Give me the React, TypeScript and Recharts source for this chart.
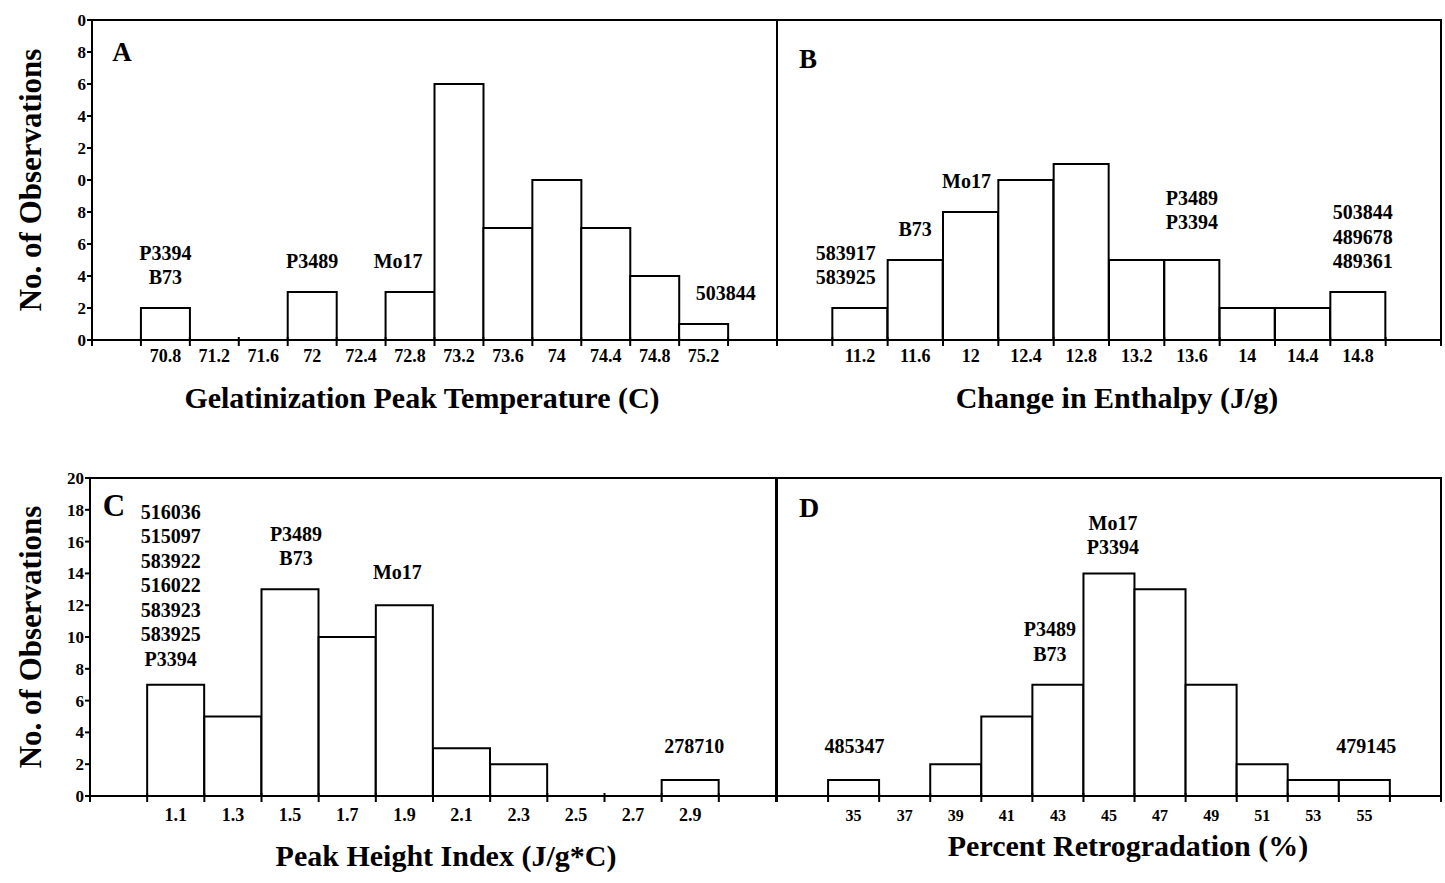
import React from 'react';
import { BarChart, Bar, XAxis, YAxis, LabelList, ReferenceArea } from 'recharts';

// ---------------- DATA ----------------
// Panel A: Gelatinization peak temperature
const tempBins = ['70.4', '70.8', '71.2', '71.6', '72', '72.4', '72.8', '73.2', '73.6', '74', '74.4', '74.8', '75.2', '75.6'];
const tempTickLabels = ['', '70.8', '71.2', '71.6', '72', '72.4', '72.8', '73.2', '73.6', '74', '74.4', '74.8', '75.2', ''];
const tempCounts = [0, 2, 0, 0, 3, 0, 3, 16, 7, 10, 7, 4, 1, 0];
const tempNotes: string[][] = [[], ['P3394', 'B73'], [], [], ['P3489'], [], ['Mo17'], [], [], [], [], [], ['503844'], []];

// Panel B: Change in enthalpy
const enthBins = ['10.8', '11.2', '11.6', '12', '12.4', '12.8', '13.2', '13.6', '14', '14.4', '14.8', '15.2'];
const enthTickLabels = ['', '11.2', '11.6', '12', '12.4', '12.8', '13.2', '13.6', '14', '14.4', '14.8', ''];
const enthCounts = [0, 2, 5, 8, 10, 11, 5, 5, 2, 2, 3, 0];
const enthNotes: string[][] = [[], ['583917', '583925'], ['B73'], ['Mo17'], [], [], [], ['P3489', 'P3394'], [], [], ['503844', '489678', '489361'], []];

// Panel C: Peak height index
const phiBins = ['0.9', '1.1', '1.3', '1.5', '1.7', '1.9', '2.1', '2.3', '2.5', '2.7', '2.9', '3.1'];
const phiTickLabels = ['', '1.1', '1.3', '1.5', '1.7', '1.9', '2.1', '2.3', '2.5', '2.7', '2.9', ''];
const phiCounts = [0, 7, 5, 13, 10, 12, 3, 2, 0, 0, 1, 0];
const phiNotes: string[][] = [[], ['516036', '515097', '583922', '516022', '583923', '583925', 'P3394'], [], ['P3489', 'B73'], [], ['Mo17'], [], [], [], [], ['278710'], []];

// Panel D: Percent retrogradation
const retroBins = ['33', '35', '37', '39', '41', '43', '45', '47', '49', '51', '53', '55', '57'];
const retroTickLabels = ['', '35', '37', '39', '41', '43', '45', '47', '49', '51', '53', '55', ''];
const retroCounts = [0, 1, 0, 2, 5, 7, 14, 13, 7, 2, 1, 1, 0];
const retroNotes: string[][] = [[], ['485347'], [], [], [], ['P3489', 'B73'], ['Mo17', 'P3394'], [], [], [], [], ['479145'], []];

const yTicks = [0, 2, 4, 6, 8, 10, 12, 14, 16, 18, 20];

// ---------------- LAYOUT / STYLE ----------------
const W = 1445;
const H = 883;
const FONT = '"Liberation Serif", "Times New Roman", Times, serif';
const XH = 40;

type Panel = {
  bins: string[];
  tickLabels: string[];
  counts: number[];
  notes: string[][];
  plot: { left: number; right: number; top: number; bottom: number };
  showY: boolean;
  yFormat: (v: number) => string;
  tickFont: number;
  tickDy: number;
  letter: string;
  letterPos: [number, number];
  letterSize: number;
  shifts: Record<number, [number, number]>;
};

const panels: Panel[] = [
  {
    bins: tempBins, tickLabels: tempTickLabels, counts: tempCounts, notes: tempNotes,
    plot: { left: 92, right: 777, top: 20, bottom: 340 },
    showY: true, yFormat: (v) => String(v % 10), tickFont: 18, tickDy: 16,
    letter: 'A', letterPos: [122, 61], letterSize: 27,
    shifts: { 6: [-12, 0], 12: [22, 0] },
  },
  {
    bins: enthBins, tickLabels: enthTickLabels, counts: enthCounts, notes: enthNotes,
    plot: { left: 777, right: 1441, top: 20, bottom: 340 },
    showY: false, yFormat: (v) => String(v), tickFont: 18, tickDy: 16,
    letter: 'B', letterPos: [808, 68], letterSize: 27,
    shifts: { 1: [-14, 0], 3: [-4, 0], 7: [0, -7], 10: [5, 0] },
  },
  {
    bins: phiBins, tickLabels: phiTickLabels, counts: phiCounts, notes: phiNotes,
    plot: { left: 90, right: 776, top: 478, bottom: 796 },
    showY: true, yFormat: (v) => String(v), tickFont: 18, tickDy: 19,
    letter: 'C', letterPos: [114, 516], letterSize: 31,
    shifts: { 1: [-5, 5], 3: [6, 0], 5: [-7, -2], 10: [4, -3] },
  },
  {
    bins: retroBins, tickLabels: retroTickLabels, counts: retroCounts, notes: retroNotes,
    plot: { left: 777, right: 1441, top: 478, bottom: 796 },
    showY: false, yFormat: (v) => String(v), tickFont: 16, tickDy: 19,
    letter: 'D', letterPos: [809, 517], letterSize: 28,
    shifts: { 1: [1, -3], 5: [-8, 0], 6: [4, 5], 11: [2, -3] },
  },
];

const AXIS = { stroke: '#000', strokeWidth: 2 };

function PanelChart({ p }: { p: Panel }) {
  const data = p.bins.map((b, i) => ({ bin: b, count: p.counts[i] }));
  const yW = p.showY ? 40 : 0;
  const margin = {
    left: p.plot.left - yW,
    right: W - p.plot.right,
    top: p.plot.top,
    bottom: H - p.plot.bottom - XH,
  };
  const bw = (p.plot.right - p.plot.left) / p.bins.length;
  const axisY = p.plot.bottom;

  const renderTick = (props: any) => {
    const { x, index } = props;
    const lab = p.tickLabels[index];
    return (
      <g>
        {index === 0 && (
          <line x1={x - bw / 2} x2={x - bw / 2} y1={axisY - 3} y2={axisY + 6} stroke="#000" strokeWidth={2} />
        )}
        <line x1={x + bw / 2} x2={x + bw / 2} y1={axisY - 3} y2={axisY + 6} stroke="#000" strokeWidth={2} />
        {lab ? (
          <text x={x} y={axisY + p.tickDy} textAnchor="middle" dominantBaseline="central"
            fontFamily={FONT} fontWeight="bold" fontSize={p.tickFont} fill="#000">{lab}</text>
        ) : null}
      </g>
    );
  };

  const renderNote = (props: any) => {
    const { x, y, width, value } = props;
    const idx = p.bins.indexOf(String(value));
    const lines = p.notes[idx];
    if (!lines || lines.length === 0) return null;
    const sh = p.shifts[idx] || [0, 0];
    const cx = Number(x) + Number(width) / 2 + sh[0];
    const base = Number(y) - 24 + sh[1];
    return (
      <text textAnchor="middle" fontFamily={FONT} fontWeight="bold" fontSize={20} fill="#000">
        {lines.map((l, i) => (
          <tspan key={i} x={cx} y={base - (lines.length - 1 - i) * 24.5}>{l}</tspan>
        ))}
      </text>
    );
  };

  return (
    <div style={{ position: 'absolute', left: 0, top: 0 }}>
      <BarChart width={W} height={H} data={data} margin={margin} barCategoryGap={0}>
        <XAxis dataKey="bin" height={XH} interval={0} axisLine={AXIS} tickLine={false} tick={renderTick} />
        <YAxis
          domain={[0, 20]}
          ticks={yTicks}
          width={yW}
          interval={0}
          axisLine={AXIS}
          tickLine={p.showY ? { stroke: '#000', strokeWidth: 2 } : false}
          tickSize={5}
          tickMargin={1}
          tick={p.showY ? { fontSize: 17, fontWeight: 'bold', fill: '#000', fontFamily: FONT } : false}
          tickFormatter={p.yFormat}
        />
        <ReferenceArea y1={0} y2={20} fill="none" fillOpacity={0} stroke="#000" strokeWidth={2} ifOverflow="visible" />
        <Bar dataKey="count" fill="#fff" stroke="#000" strokeWidth={2} isAnimationActive={false}>
          <LabelList dataKey="bin" content={renderNote} />
        </Bar>
      </BarChart>
    </div>
  );
}

const titles = [
  { text: 'Gelatinization Peak Temperature (C)', x: 422, y: 397 },
  { text: 'Change in Enthalpy (J/g)', x: 1117, y: 397 },
  { text: 'Peak Height Index (J/g*C)', x: 446, y: 855 },
  { text: 'Percent Retrogradation (%)', x: 1128, y: 845 },
];

export default function App() {
  return (
    <div style={{ position: 'absolute', left: 0, top: 0, width: W, height: H, background: '#fff', overflow: 'hidden' }}>
      {panels.map((p, i) => (
        <PanelChart key={i} p={p} />
      ))}
      <svg width={W} height={H} style={{ position: 'absolute', left: 0, top: 0, pointerEvents: 'none' }}>
        {panels.map((p, i) => (
          <text key={'l' + i} x={p.letterPos[0]} y={p.letterPos[1]} textAnchor="middle"
            fontFamily={FONT} fontWeight="bold" fontSize={p.letterSize} fill="#000">{p.letter}</text>
        ))}
        {titles.map((t, i) => (
          <text key={'t' + i} x={t.x} y={t.y} textAnchor="middle" dominantBaseline="central"
            fontFamily={FONT} fontWeight="bold" fontSize={30} fill="#000">{t.text}</text>
        ))}
        <text x={30} y={180} transform="rotate(-90 30 180)" textAnchor="middle" dominantBaseline="central"
          fontFamily={FONT} fontWeight="bold" fontSize={31} fill="#000">No. of Observations</text>
        <text x={30} y={637} transform="rotate(-90 30 637)" textAnchor="middle" dominantBaseline="central"
          fontFamily={FONT} fontWeight="bold" fontSize={31} fill="#000">No. of Observations</text>
      </svg>
    </div>
  );
}
